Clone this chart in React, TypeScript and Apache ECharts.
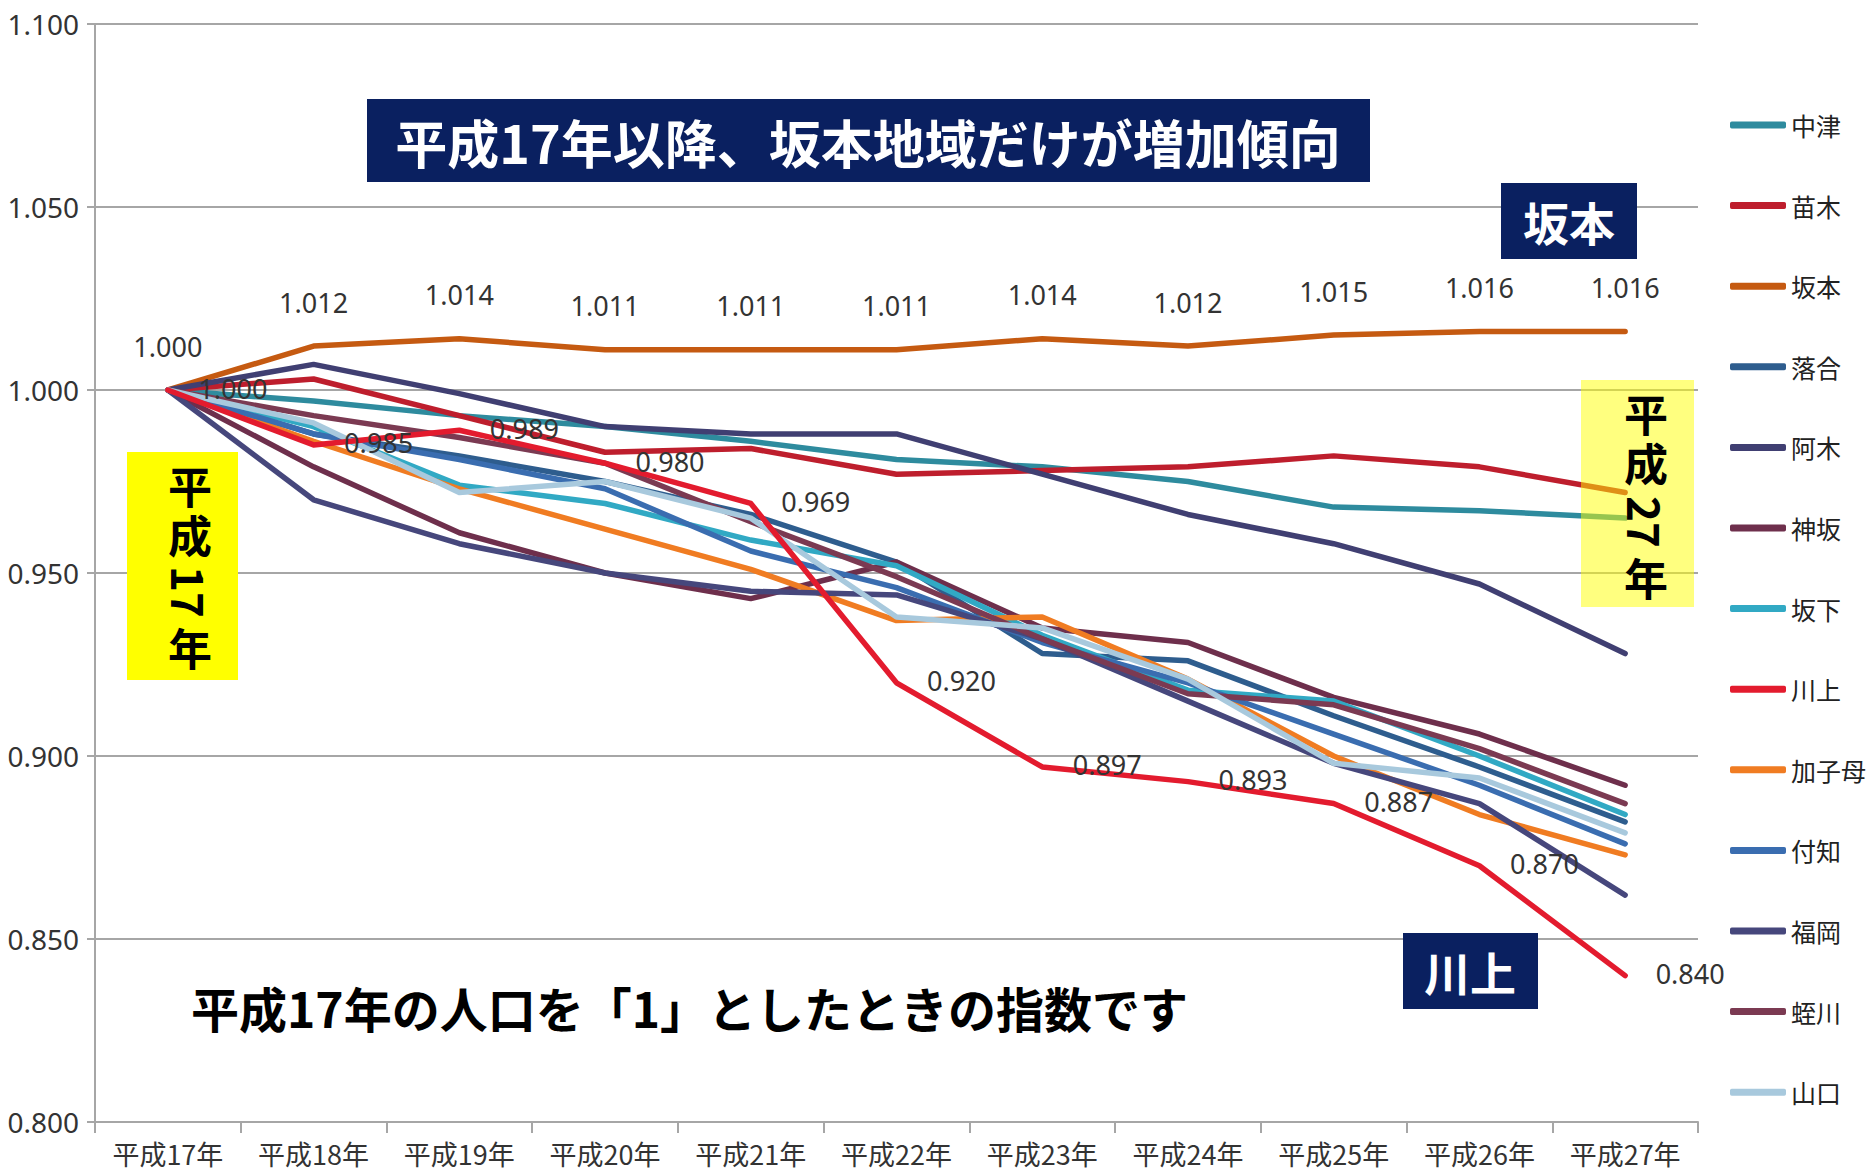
import React, { useEffect, useRef } from "react";
import * as echarts from "echarts";

const categories = ["平成17年", "平成18年", "平成19年", "平成20年", "平成21年", "平成22年", "平成23年", "平成24年", "平成25年", "平成26年", "平成27年"];

const seriesNames = ["中津", "苗木", "坂本", "落合", "阿木", "神坂", "坂下", "川上", "加子母", "付知", "福岡", "蛭川", "山口"];
const seriesColors = ["#2e8b9e", "#be1e2d", "#c55a11", "#2e5d8e", "#403f72", "#6e2f4c", "#31a9c4", "#e31b2e", "#f07c22", "#3a6db0", "#46477c", "#7b3a52", "#a8c9dd"];

const nakatsu = [1.000, 0.997, 0.993, 0.990, 0.986, 0.981, 0.979, 0.975, 0.968, 0.967, 0.965];
const naegi = [1.000, 1.003, 0.993, 0.983, 0.984, 0.977, 0.978, 0.979, 0.982, 0.979, 0.972];
const sakamoto = [1.000, 1.012, 1.014, 1.011, 1.011, 1.011, 1.014, 1.012, 1.015, 1.016, 1.016];
const ochiai = [1.000, 0.988, 0.982, 0.975, 0.966, 0.953, 0.928, 0.926, 0.911, 0.897, 0.882];
const agi = [1.000, 1.007, 0.999, 0.990, 0.988, 0.988, 0.977, 0.966, 0.958, 0.947, 0.928];
const misaka = [1.000, 0.979, 0.961, 0.950, 0.943, 0.953, 0.935, 0.931, 0.916, 0.906, 0.892];
const sakashita = [1.000, 0.990, 0.974, 0.969, 0.959, 0.952, 0.933, 0.918, 0.915, 0.900, 0.884];
const kawaue = [1.000, 0.985, 0.989, 0.980, 0.969, 0.920, 0.897, 0.893, 0.887, 0.870, 0.840];
const kashimo = [1.000, 0.986, 0.973, 0.962, 0.951, 0.937, 0.938, 0.921, 0.900, 0.884, 0.873];
const tsukechi = [1.000, 0.988, 0.981, 0.973, 0.956, 0.946, 0.931, 0.920, 0.906, 0.892, 0.876];
const fukuoka = [1.000, 0.970, 0.958, 0.950, 0.945, 0.944, 0.932, 0.915, 0.898, 0.887, 0.862];
const hirukawa = [1.000, 0.993, 0.987, 0.980, 0.964, 0.949, 0.932, 0.917, 0.914, 0.902, 0.887];
const yamaguchi = [1.000, 0.991, 0.972, 0.975, 0.965, 0.938, 0.935, 0.921, 0.898, 0.894, 0.879];

const seriesData = [nakatsu, naegi, sakamoto, ochiai, agi, misaka, sakashita, kawaue, kashimo, tsukechi, fukuoka, hirukawa, yamaguchi];

const yMin = 0.8;
const yMax = 1.1;
const yStep = 0.05;

const mainTitle = "平成17年以降、坂本地域だけが増加傾向";
const noteText = "平成17年の人口を「1」としたときの指数です";
const leftBoxParts = ["平", "成", "17", "年"];
const rightBoxParts = ["平", "成", "27", "年"];

const CJK = '"Noto Sans CJK JP", "Noto Sans", sans-serif';
const LAT = '"Noto Sans", "Open Sans", sans-serif';

function txt(x: number, y: number, text: string, size: number, fill: string, rotation = 0) {
  return {
    type: "text",
    x,
    y,
    rotation,
    z: 110,
    style: {
      text,
      fill,
      font: `bold ${size}px ${CJK}`,
      textAlign: "center",
      textVerticalAlign: "middle",
      align: "center",
      verticalAlign: "middle",
    },
  };
}

function verticalParts(parts: string[], cx: number, ys: number[], size: number) {
  return parts.map((c, i) => {
    const isDigit = /^[0-9]+$/.test(c);
    return txt(cx, ys[i], c, size, "#000", isDigit ? -Math.PI / 2 : 0);
  });
}

export default function App() {
  const ref = useRef<HTMLDivElement>(null);
  useEffect(() => {
    if (!ref.current) return;
    const chart = echarts.init(ref.current, undefined, { renderer: "svg" });
    const series = seriesNames.map((name, i) => {
      const labeled = name === "坂本" || name === "川上";
      const s: any = {
        name,
        type: "line",
        data: seriesData[i],
        showSymbol: labeled,
        symbol: labeled ? "circle" : "none",
        symbolSize: 1,
        lineStyle: { width: 5.5, color: seriesColors[i], cap: "round", join: "round" },
        itemStyle: { color: seriesColors[i] },
        z: 2,
      };
      if (name === "坂本") {
        s.label = {
          show: true,
          position: "top",
          distance: 30,
          formatter: (p: any) => Number(p.value).toFixed(3),
          fontSize: 27,
          fontFamily: LAT,
          color: "#333",
        };
      }
      if (name === "川上") {
        s.label = {
          show: true,
          position: "right",
          distance: 30,
          offset: [0, -2],
          formatter: (p: any) => Number(p.value).toFixed(3),
          fontSize: 27,
          fontFamily: LAT,
          color: "#333",
        };
        s.z = 3;
      }
      return s;
    });

    const option: any = {
      animation: false,
      backgroundColor: "#ffffff",
      grid: { left: 95, right: 176, top: 24, bottom: 52, containLabel: false },
      xAxis: {
        type: "category",
        data: categories,
        boundaryGap: true,
        axisLine: { show: true, lineStyle: { color: "#a6a6a6", width: 2 } },
        axisTick: { show: true, length: 11, lineStyle: { color: "#a6a6a6", width: 2 } },
        axisLabel: { fontSize: 27, fontFamily: CJK, color: "#333", margin: 18 },
        splitLine: { show: false },
      },
      yAxis: {
        type: "value",
        min: yMin,
        max: yMax,
        interval: yStep,
        axisLine: { show: true, lineStyle: { color: "#a6a6a6", width: 2 } },
        axisTick: { show: true, length: 8, lineStyle: { color: "#a6a6a6", width: 2 } },
        axisLabel: {
          fontSize: 28,
          fontFamily: LAT,
          color: "#333",
          margin: 16,
          formatter: (v: number) => v.toFixed(3),
        },
        splitLine: { show: true, lineStyle: { color: "#a6a6a6", width: 2 } },
      },
      legend: {
        data: seriesNames,
        orient: "vertical",
        left: 1725,
        top: 107,
        icon: "roundRect",
        itemWidth: 56,
        itemHeight: 7,
        itemGap: 54.6,
        selectedMode: false,
        textStyle: { fontSize: 25, fontFamily: CJK, color: "#222", lineHeight: 26 },
      },
      series,
      graphic: [
        { type: "rect", z: 100, shape: { x: 367, y: 99, width: 1003, height: 83 }, style: { fill: "#0a2060" } },
        txt(868, 141, mainTitle, 52, "#ffffff"),
        { type: "rect", z: 100, shape: { x: 1501, y: 183, width: 136, height: 76 }, style: { fill: "#0a2060" } },
        txt(1569, 221, "坂本", 46, "#ffffff"),
        { type: "rect", z: 100, shape: { x: 1403, y: 933, width: 135, height: 76 }, style: { fill: "#0a2060" } },
        txt(1470, 971, "川上", 46, "#ffffff"),
        { type: "rect", z: 100, shape: { x: 127, y: 452, width: 111, height: 228 }, style: { fill: "#ffff00" } },
        ...verticalParts(leftBoxParts, 190, [485, 534, 592, 647], 44),
        { type: "rect", z: 100, shape: { x: 1581, y: 380, width: 113, height: 227 }, style: { fill: "rgba(255,255,0,0.5)" } },
        ...verticalParts(rightBoxParts, 1646, [413, 462, 522, 577], 44),
        {
          type: "text",
          x: 191,
          y: 1007,
          z: 110,
          style: {
            text: noteText,
            fill: "#000",
            font: `bold 48px ${CJK}`,
            textAlign: "left",
            textVerticalAlign: "middle",
            align: "left",
            verticalAlign: "middle",
          },
        },
      ],
    };
    chart.setOption(option);
    return () => chart.dispose();
  }, []);
  return <div ref={ref} style={{ position: "absolute", left: 0, top: 0, width: 1874, height: 1174 }} />;
}
